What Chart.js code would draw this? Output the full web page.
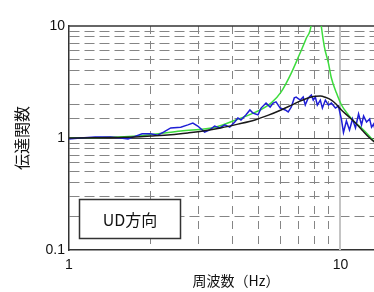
<!DOCTYPE html>
<html>
<head>
<meta charset="utf-8">
<script src="https://cdn.jsdelivr.net/npm/chart.js@4"></script>
<style>
  html, body { margin: 0; padding: 0; background: #fff; overflow: hidden; }
  #wrap { width: 410px; height: 292px; position: relative; }
</style>
</head>
<body>
<div id="wrap"><canvas id="tf"></canvas></div>
<script>
// measured transfer function (blue)
const freqObs = [1.00, 1.10, 1.25, 1.42, 1.55, 1.65, 1.76, 1.86, 2.00, 2.12, 2.23, 2.37, 2.58, 2.74, 2.86, 2.98,
  3.16, 3.30, 3.44, 3.59, 3.75, 3.91, 4.08, 4.19, 4.30, 4.49, 4.64, 4.76, 4.97, 5.10, 5.32, 5.51, 5.65, 5.79,
  6.00, 6.26, 6.42, 6.59, 6.76, 6.87, 7.11, 7.29, 7.42, 7.61, 7.81, 7.94, 8.08, 8.22, 8.43, 8.58, 8.80, 9.03,
  9.26, 9.58, 9.83, 10.09, 10.26, 10.52, 10.80, 11.08, 11.36, 11.66, 11.96, 12.17, 12.48, 12.81, 13.02, 13.25,
  13.48, 13.95, 14.81, 16.12, 16.97];
const tfObs = [0.98, 1.00, 1.02, 1.02, 1.00, 0.98, 1.04, 1.09, 1.09, 1.06, 1.13, 1.23, 1.25, 1.31, 1.36, 1.28,
  1.13, 1.18, 1.28, 1.23, 1.31, 1.25, 1.39, 1.51, 1.45, 1.61, 1.78, 1.67, 1.61, 1.85, 2.05, 1.89, 2.05, 2.10,
  1.85, 1.78, 1.71, 1.89, 2.28, 2.32, 2.18, 2.32, 1.97, 2.28, 2.42, 2.18, 2.32, 1.97, 2.18, 1.85, 2.18, 1.97,
  2.05, 1.85, 1.93, 1.45, 1.12, 1.42, 1.18, 1.48, 1.23, 1.64, 1.31, 1.57, 1.39, 1.48, 1.25, 1.33,
  1.13, 1.09, 0.96, 0.92, 0.87];

// damped model (black)
const freqDamped = [1.00, 1.25, 1.50, 1.75, 2.00, 2.37, 2.74, 3.16, 3.62, 4.19, 4.84, 5.43, 6.04, 6.50, 6.99,
  7.40, 7.81, 8.10, 8.43, 8.80, 9.26, 9.65, 10.08, 10.70, 11.37, 12.00, 12.70, 13.48, 15.00, 17.00];
const tfDamped = [1.00, 1.005, 1.01, 1.02, 1.04, 1.07, 1.11, 1.16, 1.23, 1.33, 1.45, 1.60, 1.78, 1.93, 2.10,
  2.22, 2.32, 2.36, 2.37, 2.31, 2.18, 2.00, 1.78, 1.56, 1.36, 1.18, 1.02, 0.90, 0.72, 0.56];

// low damping model (green)
const freqUndamped = [1.00, 1.30, 1.83, 2.58, 3.47, 4.12, 4.89, 5.55, 6.04, 6.59, 7.05, 7.49, 7.81, 8.10,
  8.50, 8.73, 9.03, 9.26, 9.67, 10.09, 10.70, 11.27, 11.96, 12.70, 13.48, 14.81, 16.97];
const tfUndamped = [1.00, 1.01, 1.05, 1.155, 1.25, 1.45, 1.71, 2.05, 2.57, 3.80, 5.51, 7.80, 10.4, 30,
  10.0, 6.49, 4.67, 3.43, 2.52, 1.97, 1.61, 1.39, 1.23, 1.06, 0.90, 0.70, 0.52];

const xTicksShown = [1, 10];
const yTicksShown = [0.1, 1, 10];
const panelLabel = "UD方向";

const pts = (xs, ys) => xs.map((f, i) => ({ x: f, y: ys[i] }));
const isDecade = v => Math.abs(Math.log10(v) - Math.round(Math.log10(v))) < 1e-6;
const jp = "'Noto Sans CJK JP', 'Noto Sans', sans-serif";
const num = "'Liberation Sans', Arial, sans-serif";

// frame, solid reference lines and the panel label
const frame = {
  id: "frame",
  beforeDatasetsDraw(chart) {
    const { ctx, chartArea: a, scales: { x, y } } = chart;
    ctx.save();
    const x10 = Math.round(x.getPixelForValue(10));
    ctx.strokeStyle = "#c4c4c4";
    ctx.lineWidth = 2;
    ctx.beginPath(); ctx.moveTo(x10, a.top); ctx.lineTo(x10, a.bottom); ctx.stroke();
    const y1 = Math.round(y.getPixelForValue(1)) + 0.5;
    ctx.strokeStyle = "#444";
    ctx.lineWidth = 1;
    ctx.beginPath(); ctx.moveTo(a.left, y1); ctx.lineTo(a.right, y1); ctx.stroke();
    ctx.strokeStyle = "#333";
    ctx.lineWidth = 1.5;
    ctx.beginPath(); ctx.moveTo(a.left, a.top); ctx.lineTo(a.right, a.top); ctx.stroke();
    ctx.restore();
  },
  afterDatasetsDraw(chart) {
    const { ctx, chartArea: a } = chart;
    const bx = a.left + 10.5, by = a.bottom - 50.5, bw = 101, bh = 39;
    ctx.save();
    ctx.fillStyle = "#fff";
    ctx.fillRect(bx, by, bw, bh);
    ctx.strokeStyle = "#333";
    ctx.lineWidth = 1.5;
    ctx.strokeRect(bx, by, bw, bh);
    ctx.fillStyle = "#111";
    ctx.font = "16px " + jp;
    ctx.textAlign = "center";
    ctx.textBaseline = "middle";
    ctx.fillText(panelLabel, bx + bw / 2, by + bh / 2 + 1);
    ctx.restore();
  }
};

const gridOpts = {
  drawTicks: false,
  lineWidth: 1,
  color: c => (c.tick && isDecade(c.tick.value)) ? "rgba(0,0,0,0)" : "#858585"
};

new Chart(document.getElementById("tf"), {
  type: "line",
  data: {
    datasets: [
      { data: pts(freqDamped, tfDamped), borderColor: "#1a1a1a", borderWidth: 1.5,
        cubicInterpolationMode: "monotone", pointRadius: 0, order: 0 },
      { data: pts(freqObs, tfObs), borderColor: "#1f1fd6", borderWidth: 1.5,
        tension: 0, pointRadius: 0, order: 1 },
      { data: pts(freqUndamped, tfUndamped), borderColor: "#3ddc3d", borderWidth: 1.5,
        cubicInterpolationMode: "monotone", pointRadius: 0, order: 2 }
    ]
  },
  options: {
    responsive: true,
    maintainAspectRatio: false,
    animation: false,
    parsing: false,
    layout: { padding: { top: 26, left: 0, right: 0, bottom: 3 } },
    plugins: { legend: { display: false }, tooltip: { enabled: false } },
    scales: {
      x: {
        type: "logarithmic",
        min: 1,
        max: 17,
        grid: gridOpts,
        border: { display: true, color: "#333", width: 1.5, dash: [8, 7] },
        ticks: {
          autoSkip: false, maxRotation: 0, padding: 7,
          color: "#111", font: { family: num, size: 14 },
          callback: v => xTicksShown.some(t => Math.abs(t - v) < 1e-9) ? String(v) : ""
        },
        title: { display: true, text: "周波数（Hz）", color: "#111",
          font: { family: jp, size: 14 }, padding: { top: 0, bottom: 0 } },
        afterFit: s => { s.height = 39; }
      },
      y: {
        type: "logarithmic",
        min: 0.1,
        max: 10,
        grid: gridOpts,
        border: { display: true, color: "#333", width: 1.5, dash: [10, 5] },
        ticks: {
          autoSkip: false, padding: 4,
          color: "#111", font: { family: num, size: 14 },
          callback: v => yTicksShown.some(t => Math.abs(t - v) < 1e-9) ? String(v) : ""
        },
        title: { display: true, text: "伝達関数", color: "#111",
          font: { family: jp, size: 16 }, padding: { top: 12, bottom: 0 } },
        afterFit: s => { s.width = 69; }
      }
    }
  },
  plugins: [frame]
});
</script>
</body>
</html>
